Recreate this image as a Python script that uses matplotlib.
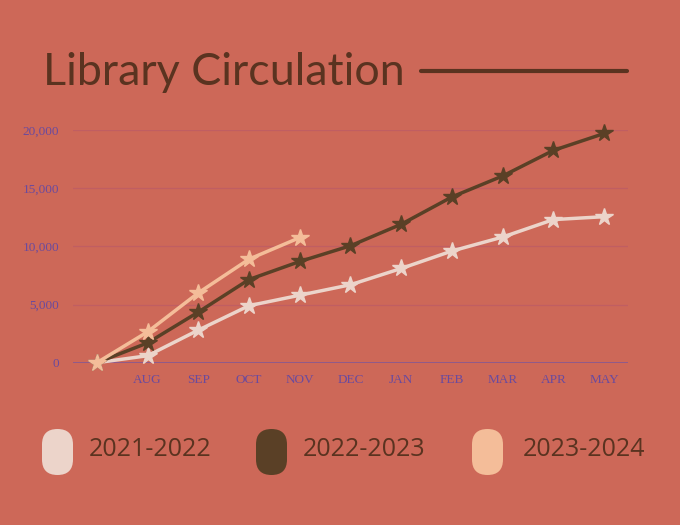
import matplotlib.pyplot as plt
from matplotlib.patches import FancyBboxPatch
from matplotlib.ticker import FuncFormatter

months = ['', 'AUG', 'SEP', 'OCT', 'NOV', 'DEC', 'JAN', 'FEB', 'MAR', 'APR', 'MAY']
y2021 = [0, 600, 2800, 4900, 5800, 6700, 8100, 9600, 10800, 12300, 12550]
y2022 = [0, 1700, 4350, 7150, 8700, 10050, 11900, 14250, 16050, 18250, 19700]
y2023 = [0, 2650, 6000, 8900, 10750]
series = ['2021-2022', '2022-2023', '2023-2024']
colors = ['#ecd4ca', '#5a4026', '#f4bd99']

bg = '#cd6858'
brown = '#5a3320'
purple = '#6a4a9e'

fig = plt.figure(figsize=(6.8, 5.25), dpi=100)
fig.patch.set_facecolor(bg)

ax = fig.add_axes([73 / 680, 1 - 362.7 / 525, 555 / 680, 232.7 / 525])
ax.set_facecolor(bg)
x = list(range(len(months)))
for vals, c in zip([y2021, y2022, y2023], colors):
    ax.plot(x[:len(vals)], vals, color=c, lw=2.5, marker='*', ms=13,
            mec=c, mfc=c, clip_on=False, zorder=3)

ax.set_xlim(-0.47, 10.47)
ax.set_ylim(0, 20000)
ax.set_yticks([0, 5000, 10000, 15000, 20000])
ax.yaxis.set_major_formatter(FuncFormatter(lambda v, p: f'{int(v):,}'))
ax.set_xticks(x)
ax.set_xticklabels(months)
ax.grid(axis='y', color='#c05e62', lw=0.9)
ax.axhline(0, color='#8a5a90', lw=1.4, zorder=1)
for s in ax.spines.values():
    s.set_visible(False)
ax.tick_params(length=0, colors=purple, labelsize=9.5, pad=8)
for lab in ax.get_xticklabels() + ax.get_yticklabels():
    lab.set_fontfamily('Liberation Serif')
ax.tick_params(axis='y', pad=10)

# overlay in pixel coordinates for title and legend
ov = fig.add_axes([0, 0, 1, 1], zorder=-1)
ov.set_xlim(0, 680)
ov.set_ylim(525, 0)
ov.axis('off')
ov.text(43, 85, 'Library Circulation', fontsize=32.3, color=brown,
        family='Lato', va='baseline')
ov.plot([421, 627], [71, 71], color=brown, lw=3, solid_capstyle='round')

pill_x = [42, 256, 472]
text_x = [89, 303, 523]
for px, tx, c, name in zip(pill_x, text_x, colors, series):
    ov.add_patch(FancyBboxPatch((px, 429), 31, 46,
                                boxstyle='round,pad=0,rounding_size=15.5',
                                fc=c, ec='none'))
    ov.text(tx, 449, name, fontsize=18, color=brown, family='Open Sans',
            va='center')

fig.savefig('out.png', dpi=100, facecolor=bg)
